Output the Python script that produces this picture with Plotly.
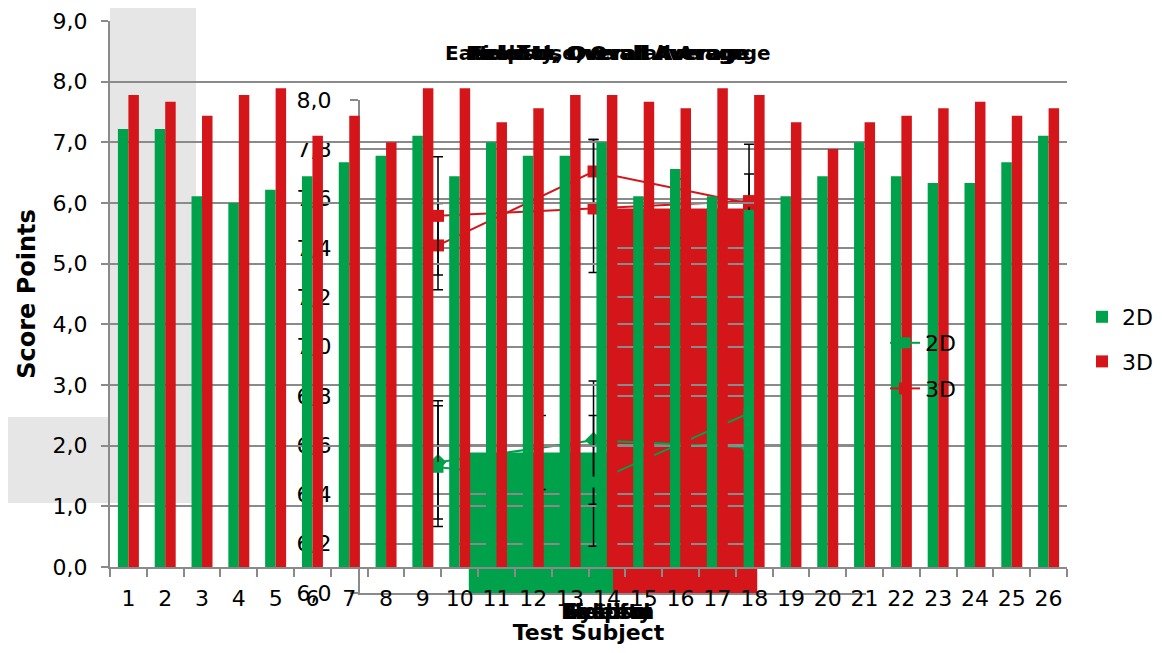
import plotly.graph_objects as go

# the page body adds an 8px margin; lay out in page pixels shifted by 8 and keep the figure inside the window
OFF = 8
W, H = 1163 - 2 * OFF, 653 - 2 * OFF

def fx(x):
    return max(0.0, (x - OFF) / W)

def fy(y):
    return 1 - (y - OFF) / H

# ---------------- data ----------------
subjects = [str(i) for i in range(1, 27)]
score_2d = [7.22, 7.22, 6.11, 6.00, 6.22, 6.44, 6.67, 6.78, 7.11, 6.44, 7.00, 6.78, 6.78,
            7.00, 6.11, 6.56, 6.11, 5.89, 6.11, 6.44, 7.00, 6.44, 6.33, 6.33, 6.67, 7.11]
score_3d = [7.78, 7.67, 7.44, 7.78, 7.89, 7.11, 7.44, 7.00, 7.89, 7.89, 7.33, 7.56, 7.78,
            7.78, 7.67, 7.56, 7.89, 7.78, 7.33, 6.89, 7.33, 7.44, 7.56, 7.67, 7.44, 7.56]

# overall-average bar inset
avg_cat = ["System"]
avg_2d = [6.57]
avg_3d = [7.56]
avg_2d_err = [0.15]
avg_3d_err = [0.12]

# overall-average line insets (two overlapping)
crit = ["Ease of Use", "Realism", "Helpful"]
line_2d_a = [6.53, 6.62, 6.59]
line_2d_a_up = [0.25, 0.24, 0.20]
line_2d_a_dn = [0.26, 0.26, 0.20]
line_2d_b = [6.51, 6.45, 6.73]
line_2d_b_up = [0.25, 0.27, 0.20]
line_2d_b_dn = [0.21, 0.26, 0.20]
line_3d_a = [7.53, 7.56, 7.59]
line_3d_a_up = [0.24, 0.28, 0.23]
line_3d_a_dn = [0.24, 0.26, 0.23]
line_3d_b = [7.41, 7.71, 7.58]
line_3d_b_up = [0.17, 0.13, 0.12]
line_3d_b_dn = [0.18, 0.13, 0.12]

inset_titles = ["Ease of Use, Overall Average", "Realism, Overall Average",
                "Helpful, Overall Average", "Fidelity, Overall Average"]
inset_xtitles = ["Realism", "Fidelity", "Helpful", "System"]

GREEN = "#00A14B"
RED = "#D4161A"
GRID = "#8a8a8a"
FONT = "DejaVu Sans"

fig = go.Figure()

# --- bar inset (bottom layer) ---
fig.add_trace(go.Bar(x=avg_cat, y=avg_2d, name="2D", marker_color=GREEN, marker_line_width=0,
                     error_y=dict(type="data", array=avg_2d_err, color="black", thickness=1.5, width=5),
                     xaxis="x", yaxis="y", showlegend=False))
fig.add_trace(go.Bar(x=avg_cat, y=avg_3d, name="3D", marker_color=RED, marker_line_width=0,
                     error_y=dict(type="data", array=avg_3d_err, color="black", thickness=1.5, width=5),
                     xaxis="x", yaxis="y", showlegend=False))

# --- line inset ---
def eb(up, dn):
    return dict(type="data", symmetric=False, array=up, arrayminus=dn,
                color="black", thickness=1.5, width=5)

fig.add_trace(go.Scatter(x=crit, y=line_2d_a, mode="lines+markers", line=dict(color=GREEN, width=2),
                         marker=dict(symbol="diamond", size=13, color=GREEN), error_y=eb(line_2d_a_up, line_2d_a_dn),
                         xaxis="x2", yaxis="y2", showlegend=False))
fig.add_trace(go.Scatter(x=crit, y=line_3d_b, mode="lines+markers", line=dict(color=RED, width=2),
                         marker=dict(symbol="square", size=12, color=RED), error_y=eb(line_3d_b_up, line_3d_b_dn),
                         xaxis="x2", yaxis="y2", showlegend=False))
fig.add_trace(go.Scatter(x=crit, y=line_2d_b, mode="lines+markers", name="2D", line=dict(color=GREEN, width=2),
                         marker=dict(symbol="square", size=11, color=GREEN), error_y=eb(line_2d_b_up, line_2d_b_dn),
                         xaxis="x2", yaxis="y2", legend="legend2", legendgroup="a2"))
fig.add_trace(go.Scatter(x=crit, y=line_3d_a, mode="lines+markers", name="3D", line=dict(color=RED, width=2),
                         marker=dict(symbol="square", size=12, color=RED), error_y=eb(line_3d_a_up, line_3d_a_dn),
                         xaxis="x2", yaxis="y2", legend="legend2", legendgroup="b2"))

# --- main chart (top layer) ---
fig.add_trace(go.Bar(x=subjects, y=score_2d, name="2D", marker_color=GREEN, marker_line_width=0,
                     xaxis="x3", yaxis="y3", legendgroup="a"))
fig.add_trace(go.Bar(x=subjects, y=score_3d, name="3D", marker_color=RED, marker_line_width=0,
                     xaxis="x3", yaxis="y3", legendgroup="b"))

inset_xdom = [fx(360), fx(866)]
inset_ydom = [fy(593), fy(100)]

annotations = []
for t in inset_titles:
    annotations.append(dict(text="<b>" + t + "</b>", x=fx(608), y=fy(53), xref="paper", yref="paper",
                            xanchor="center", yanchor="middle", showarrow=False,
                            font=dict(family=FONT, size=20, color="black")))
for t in inset_xtitles:
    annotations.append(dict(text="<b>" + t + "</b>", x=fx(607), y=fy(612), xref="paper", yref="paper",
                            xanchor="center", yanchor="middle", showarrow=False,
                            font=dict(family=FONT, size=21, color="black")))

shapes = [
    dict(type="rect", xref="paper", yref="paper", x0=fx(110), x1=fx(196), y0=fy(503), y1=1,
         fillcolor="#E6E6E6", line_width=0, layer="below"),
    dict(type="rect", xref="paper", yref="paper", x0=0, x1=fx(196), y0=fy(503), y1=fy(417),
         fillcolor="#E6E6E6", line_width=0, layer="below"),
]

fig.update_layout(
    width=W, height=H,
    margin=dict(l=0, r=0, t=0, b=0, autoexpand=False),
    paper_bgcolor="white", plot_bgcolor="rgba(0,0,0,0)",
    separators=",.",
    font=dict(family=FONT, size=22, color="black"),
    barmode="group", bargap=0.43, bargroupgap=0,
    shapes=shapes, annotations=annotations,
    # bar inset axes (hidden)
    xaxis=dict(domain=inset_xdom, anchor="y", visible=False),
    yaxis=dict(domain=inset_ydom, anchor="x", range=[6, 8], visible=False),
    # line inset axes
    xaxis2=dict(domain=inset_xdom, anchor="y2", range=[-0.5016, 2.752], showline=True, linecolor=GRID,
                linewidth=2, showgrid=False, showticklabels=False, ticks="", zeroline=False),
    yaxis2=dict(domain=inset_ydom, anchor="x2", range=[6, 8], dtick=0.2, tick0=6, tickformat=".1f",
                showline=True, linecolor=GRID, linewidth=2, showgrid=True, gridcolor=GRID, gridwidth=2,
                ticks="outside", ticklen=8, tickcolor=GRID, tickwidth=2, zeroline=False,
                ticklabelstandoff=14, tickfont=dict(size=22)),
    yaxis4=dict(overlaying="y2", anchor="x2", side="left", range=[6, 8], dtick=0.5, tick0=6,
                tickformat=".1f", showgrid=True, gridcolor=GRID, gridwidth=2, ticks="outside", ticklen=8,
                tickcolor=GRID, tickwidth=2, zeroline=False, ticklabelstandoff=16, tickfont=dict(size=22)),
    # main axes
    xaxis3=dict(domain=[fx(110), fx(1067)], anchor="y3", type="category", tickson="boundaries",
                ticks="outside", ticklen=8, tickcolor=GRID, tickwidth=2, showline=True, linecolor=GRID,
                linewidth=2, showgrid=False, tickfont=dict(size=22), tickangle=0, ticklabelstandoff=11,
                title=dict(text="<b>Test Subject</b>", font=dict(size=22), standoff=23)),
    yaxis3=dict(domain=[fy(567), fy(21)], anchor="x3", range=[0, 9], dtick=1, tickformat=".1f",
                ticks="outside", ticklen=7, tickcolor=GRID, tickwidth=2, showline=True, linecolor=GRID,
                linewidth=2, showgrid=True, gridcolor=GRID, gridwidth=2, zeroline=False,
                tickfont=dict(size=22), ticklabelstandoff=9,
                title=dict(text="<b>Score Points</b>", font=dict(size=24), standoff=10)),
    legend=dict(x=fx(1082), y=fy(296), xanchor="left", yanchor="top", bgcolor="rgba(0,0,0,0)",
                font=dict(size=22), tracegroupgap=13, traceorder="grouped"),
    legend2=dict(x=fx(885), y=fy(322), xanchor="left", yanchor="top", bgcolor="rgba(0,0,0,0)",
                 font=dict(size=22), tracegroupgap=14, traceorder="grouped"),
)

fig.write_html("out.html")
